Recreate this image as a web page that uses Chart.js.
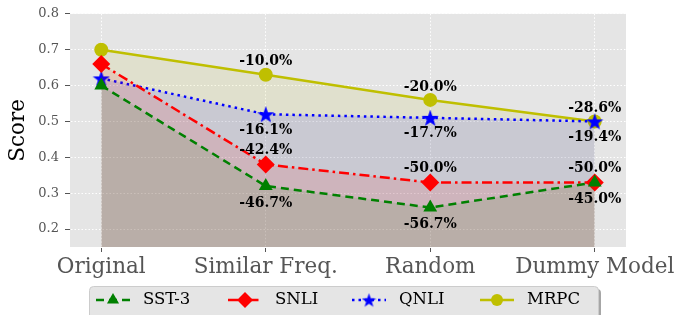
<!DOCTYPE html>
<html>
<head>
<meta charset="utf-8">
<script src="https://cdn.jsdelivr.net/npm/chart.js@4"></script>
<style>
  html, body { margin: 0; padding: 0; background: #fff; }
  #wrap { width: 682px; height: 315px; }
</style>
</head>
<body>
<div id="wrap"><canvas id="scoreChart" width="682" height="315"></canvas></div>
<script>
// categories and values
const categories = ['Original', 'Similar Freq.', 'Random', 'Dummy Model'];
const sst3 = [0.60, 0.32, 0.26, 0.33];
const snli = [0.66, 0.38, 0.33, 0.33];
const qnli = [0.62, 0.52, 0.51, 0.50];
const mrpc = [0.70, 0.63, 0.56, 0.50];
const sst3Labels = ['', '-46.7%', '-56.7%', '-45.0%'];
const snliLabels = ['', '-42.4%', '-50.0%', '-50.0%'];
const qnliLabels = ['', '-16.1%', '-17.7%', '-19.4%'];
const mrpcLabels = ['', '-10.0%', '-20.0%', '-28.6%'];
const yTicks = [0.2, 0.3, 0.4, 0.5, 0.6, 0.7, 0.8];

const serif = "'DejaVu Serif', serif";

// filled five-point star for QNLI
function makeStar(size, color) {
    const c = document.createElement('canvas');
    c.width = size; c.height = size;
    const g = c.getContext('2d');
    const cx = size / 2, cy = size / 2 + 0.8, R = size / 2, r = R * 0.4;
    g.beginPath();
    for (let i = 0; i < 10; i++) {
        const rad = i % 2 === 0 ? R : r;
        const a = -Math.PI / 2 + i * Math.PI / 5;
        g.lineTo(cx + rad * Math.cos(a), cy + rad * Math.sin(a));
    }
    g.closePath();
    g.fillStyle = color;
    g.fill();
    return c;
}
const starBig = makeStar(18, '#0000ff');
const starSmall = makeStar(15, '#0000ff');

function pts(arr) {
    return arr.map(function(v, i) { return { x: i, y: v }; });
}

const series = [
    { label: 'SST-3', data: sst3, notes: sst3Labels, noteDy: 17, color: '#008000', fill: 'rgba(0,128,0,0.1)',
      dash: [8, 5], style: 'triangle', radius: 8, legendStyle: 'triangle', legendRadius: 7 },
    { label: 'SNLI', data: snli, notes: snliLabels, noteDy: -14, color: '#ff0000', fill: 'rgba(255,0,0,0.1)',
      dash: [10, 4, 2.5, 4], style: 'rectRot', radius: 9, legendStyle: 'rectRot', legendRadius: 8 },
    { label: 'QNLI', data: qnli, notes: qnliLabels, noteDy: 16, color: '#0000ff', fill: 'rgba(0,0,255,0.1)',
      dash: [2.5, 4], style: starBig, radius: 9, legendStyle: starSmall, legendRadius: 7 },
    { label: 'MRPC', data: mrpc, notes: mrpcLabels, noteDy: -13, color: '#bfbf00', fill: 'rgba(191,191,0,0.1)',
      dash: [], style: 'circle', radius: 7, legendStyle: 'circle', legendRadius: 6 }
];

const bgPlugin = {
    id: 'plotBg',
    beforeDraw: function(chart) {
        const a = chart.chartArea, ctx = chart.ctx;
        ctx.save();
        ctx.fillStyle = '#e5e5e5';
        ctx.fillRect(a.left, a.top, a.right - a.left, a.bottom - a.top);
        ctx.restore();
    }
};

// percentage notes next to each point
const notesPlugin = {
    id: 'notes',
    afterDatasetsDraw: function(chart) {
        const ctx = chart.ctx, xs = chart.scales.x, ys = chart.scales.y;
        ctx.save();
        ctx.font = "bold 14px " + serif;
        ctx.fillStyle = '#000';
        ctx.textAlign = 'center';
        ctx.textBaseline = 'middle';
        series.forEach(function(s) {
            s.data.forEach(function(v, i) {
                if (!s.notes[i]) return;
                ctx.fillText(s.notes[i], xs.getPixelForValue(i), ys.getPixelForValue(v) + s.noteDy);
            });
        });
        ctx.restore();
    }
};

// matplotlib-like legend box under the axis
const legendPlugin = {
    id: 'mplLegend',
    afterDraw: function(chart) {
        const ctx = chart.ctx;
        const bx = 89, by = 286, bw = 509, bh = 40;
        ctx.save();
        ctx.fillStyle = 'rgba(0,0,0,0.35)';
        ctx.beginPath();
        ctx.roundRect(bx + 3, by + 3, bw, bh, 4);
        ctx.fill();
        ctx.fillStyle = '#e5e5e5';
        ctx.strokeStyle = '#cccccc';
        ctx.lineWidth = 1;
        ctx.beginPath();
        ctx.roundRect(bx + 0.5, by + 0.5, bw, bh, 4);
        ctx.fill();
        ctx.stroke();

        const starts = [96, 228, 352, 480];
        const ly = 300;
        ctx.font = "16.5px " + serif;
        ctx.textBaseline = 'middle';
        series.forEach(function(s, i) {
            const x0 = starts[i];
            ctx.strokeStyle = s.color;
            ctx.lineWidth = 2.5;
            ctx.setLineDash(s.dash);
            ctx.beginPath();
            ctx.moveTo(x0, ly);
            ctx.lineTo(x0 + 34, ly);
            ctx.stroke();
            ctx.setLineDash([]);
            ctx.fillStyle = s.color;
            Chart.helpers.drawPoint(ctx, {
                pointStyle: s.legendStyle, radius: s.legendRadius, borderWidth: 0, rotation: 0
            }, x0 + 17, ly);
            ctx.fillStyle = '#000';
            ctx.fillText(s.label, x0 + 47, ly);
        });
        ctx.restore();
    }
};

const ctx = document.getElementById('scoreChart').getContext('2d');
const scoreChart = new Chart(ctx, {
    type: 'line',
    data: {
        datasets: series.map(function(s) {
            return {
                label: s.label,
                data: pts(s.data),
                borderColor: s.color,
                backgroundColor: s.fill,
                borderWidth: 2.5,
                borderDash: s.dash,
                pointStyle: s.style,
                pointRadius: s.radius,
                pointBackgroundColor: s.color,
                pointBorderColor: s.color,
                pointBorderWidth: 0,
                fill: 'start',
                tension: 0
            };
        })
    },
    options: {
        responsive: false,
        animation: false,
        events: [],
        layout: {
            padding: { left: 0, right: 56, top: 13, bottom: 0 }
        },
        scales: {
            x: {
                type: 'linear',
                min: -0.19,
                max: 3.19,
                afterBuildTicks: function(scale) {
                    scale.ticks = categories.map(function(c, i) { return { value: i }; });
                },
                afterFit: function(scale) { scale.height = 68; },
                grid: {
                    color: '#ffffff',
                    lineWidth: 1,
                    tickLength: 5,
                    tickColor: '#555555'
                },
                border: { display: true, color: 'rgba(0,0,0,0)', dash: [1.5, 2] },
                ticks: {
                    autoSkip: false,
                    maxRotation: 0,
                    padding: 3,
                    color: '#555555',
                    font: { family: serif, size: 21.5 },
                    callback: function(value) { return categories[value]; }
                }
            },
            y: {
                min: 0.15,
                max: 0.8,
                afterBuildTicks: function(scale) {
                    scale.ticks = yTicks.map(function(v) { return { value: v }; });
                },
                afterFit: function(scale) { scale.width = 70; },
                grid: {
                    color: '#ffffff',
                    lineWidth: 1,
                    tickLength: 5,
                    tickColor: '#555555'
                },
                border: { display: true, color: 'rgba(0,0,0,0)', dash: [1.5, 2] },
                ticks: {
                    padding: 6,
                    color: '#555555',
                    font: { family: serif, size: 13 },
                    callback: function(value) { return value.toFixed(1); }
                },
                title: {
                    display: true,
                    text: 'Score',
                    color: '#000000',
                    font: { family: serif, size: 21.5 },
                    padding: { top: 6, bottom: 0 }
                }
            }
        },
        plugins: {
            legend: { display: false },
            tooltip: { enabled: false }
        }
    },
    plugins: [bgPlugin, notesPlugin, legendPlugin]
});
</script>
</body>
</html>
